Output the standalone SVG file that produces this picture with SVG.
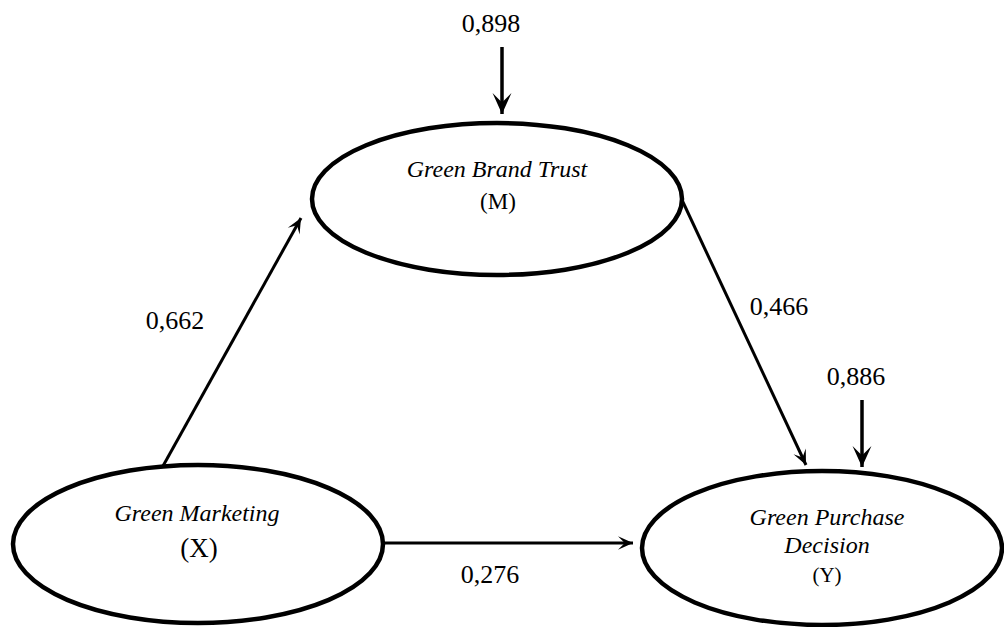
<svg xmlns="http://www.w3.org/2000/svg" width="1004" height="627" viewBox="0 0 1004 627">
<style>
.node ellipse{fill:#fff;stroke:#000;stroke-width:4.5}
.lbl{font-family:"Liberation Serif","Times New Roman",serif;font-style:italic;font-size:24px;text-anchor:middle;fill:#000}
.sym{font-family:"Liberation Serif","Times New Roman",serif;font-size:23px;text-anchor:middle;fill:#000}
.num{font-family:"Liberation Serif","Times New Roman",serif;font-size:26px;text-anchor:middle;fill:#000}
.conn line{stroke:#000;stroke-width:3;fill:none}
.conn line.err{stroke-width:3.5}
</style>
<defs>
<marker id="ah" viewBox="0 0 20 20" refX="20" refY="10" markerUnits="userSpaceOnUse" markerWidth="17" markerHeight="15" orient="auto">
<path d="M0,1 L20,10 L0,19 L9,10 z" fill="#000"/>
</marker>
<marker id="ah2" viewBox="0 0 20 20" refX="20" refY="10" markerUnits="userSpaceOnUse" markerWidth="21" markerHeight="22" orient="auto">
<path d="M0,1 L20,10 L0,19 L9,10 z" fill="#000"/>
</marker>
</defs>
<g id="connectors" class="conn">
<line x1="163" y1="466" x2="301" y2="218" marker-end="url(#ah)"/>
<line x1="682" y1="200" x2="806" y2="465" marker-end="url(#ah)"/>
<line x1="384" y1="543" x2="633" y2="543" marker-end="url(#ah)"/>
<line class="err" x1="502" y1="47" x2="502" y2="114" marker-end="url(#ah2)"/>
<line class="err" x1="862" y1="400" x2="862" y2="467" marker-end="url(#ah2)"/>
</g>
<g id="node-M" class="node">
<ellipse cx="497" cy="199" rx="185" ry="76"/>
<text class="lbl" x="497" y="177">Green Brand Trust</text>
<text class="sym" x="498" y="209">(M)</text>
</g>
<g id="node-X" class="node">
<ellipse cx="198" cy="544" rx="185" ry="79"/>
<text class="lbl" x="197" y="521">Green Marketing</text>
<text class="sym" x="199" y="557" style="font-size:27px">(X)</text>
</g>
<g id="node-Y" class="node">
<ellipse cx="822" cy="548" rx="180" ry="77"/>
<text class="lbl" x="827" y="525">Green Purchase</text>
<text class="lbl" x="827" y="553">Decision</text>
<text class="sym" x="827" y="582" style="font-size:21px">(Y)</text>
</g>
<g id="labels">
<text class="num" x="491" y="32">0,898</text>
<text class="num" x="856" y="385">0,886</text>
<text class="num" x="175" y="329">0,662</text>
<text class="num" x="779" y="315">0,466</text>
<text class="num" x="490" y="583">0,276</text>
</g>
</svg>
